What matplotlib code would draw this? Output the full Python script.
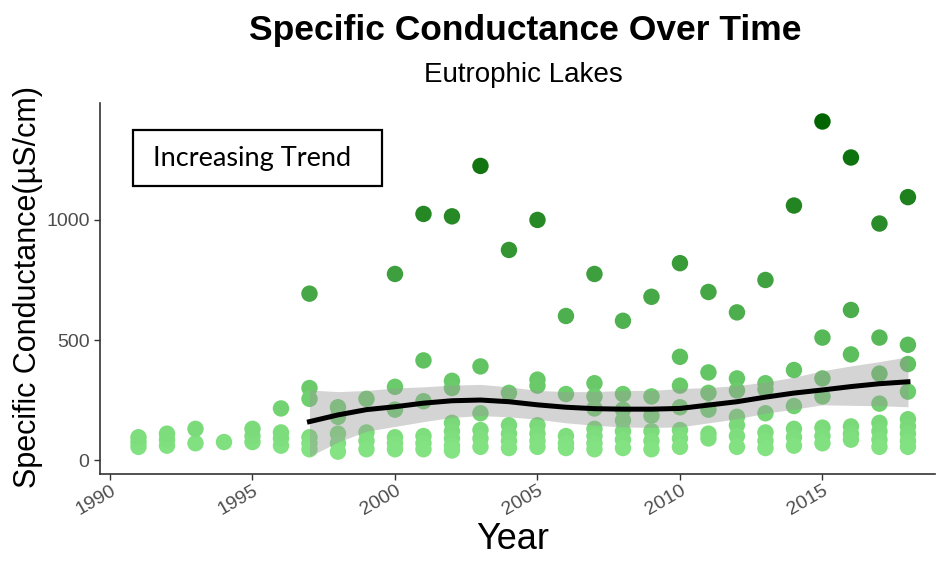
import matplotlib
matplotlib.use("Agg")
import matplotlib.pyplot as plt
from matplotlib.colors import LinearSegmentedColormap, Normalize
from matplotlib.patches import Rectangle
import numpy as np

plt.rcParams["font.family"] = ["Liberation Sans", "DejaVu Sans"]

# specific conductance (uS/cm) of each eutrophic lake, per year
years = [1991, 1992, 1993, 1994, 1995, 1996, 1997, 1998, 1999, 2000,
         2001, 2002, 2003, 2004, 2005, 2006, 2007, 2008, 2009, 2010,
         2011, 2012, 2013, 2014, 2015, 2016, 2017, 2018]
cond = [
    [55, 75, 95],
    [60, 85, 110],
    [70, 130],
    [75],
    [75, 100, 130],
    [215, 60, 90, 115],
    [693, 300, 255, 95, 70, 45],
    [220, 180, 110, 70, 35],
    [255, 115, 80, 45],
    [775, 305, 210, 95, 70, 45],
    [1025, 415, 245, 100, 70, 45],
    [1015, 330, 300, 155, 120, 90, 60, 40],
    [1225, 390, 195, 125, 90, 55],
    [875, 280, 145, 110, 80, 50],
    [1000, 335, 310, 145, 110, 80, 55],
    [600, 275, 100, 70, 50],
    [775, 320, 265, 215, 130, 100, 70, 45],
    [580, 275, 210, 165, 120, 85, 50],
    [680, 265, 185, 120, 80, 45],
    [820, 430, 310, 220, 125, 90, 55],
    [700, 365, 280, 210, 110, 90],
    [615, 340, 290, 180, 145, 100, 55],
    [750, 320, 295, 195, 115, 80, 50],
    [1060, 375, 225, 130, 95, 60],
    [1410, 510, 340, 265, 135, 100, 70],
    [1260, 625, 440, 140, 110, 85],
    [985, 510, 360, 235, 155, 120, 85, 55],
    [1095, 480, 400, 285, 170, 140, 110, 80, 55],
]

# smoothed trend with its confidence band
smooth_years = list(range(1997, 2019))
smooth_fit = [160, 188, 210, 222, 237, 247, 250, 243, 230, 220, 214,
              212, 212, 215, 229, 243, 262, 279, 292, 306, 318, 326]
smooth_hi = [292, 285, 290, 300, 305, 312, 315, 305, 290, 285, 285,
             290, 290, 298, 302, 310, 325, 345, 372, 392, 410, 430]
smooth_lo = [15, 75, 120, 140, 160, 178, 185, 180, 170, 155, 145,
             138, 136, 138, 155, 172, 195, 212, 230, 228, 226, 222]

x = np.concatenate([[yr] * len(v) for yr, v in zip(years, cond)])
y = np.concatenate([v for v in cond])

cmap = LinearSegmentedColormap.from_list("greens", ["#84e484", "#006400"])
norm = Normalize(vmin=y.min(), vmax=y.max())

fig = plt.figure(figsize=(9.4, 5.61), dpi=100)
ax = fig.add_axes([0.1064, 0.1551, 0.8883, 0.6613])

ax.scatter(x, y, s=140, c=cmap(norm(y)), edgecolors="none", zorder=2)
ax.fill_between(smooth_years, smooth_lo, smooth_hi, color="#999999",
                alpha=0.42, linewidth=0, zorder=3)
ax.plot(smooth_years, smooth_fit, color="black", linewidth=3.6, zorder=4)

ax.set_xlim(1989.65, 2018.95)
ax.set_ylim(-58, 1487)
ax.set_xticks([1990, 1995, 2000, 2005, 2010, 2015])
ax.set_yticks([0, 500, 1000])
for s in ["top", "right"]:
    ax.spines[s].set_visible(False)
for s in ["left", "bottom"]:
    ax.spines[s].set_color("#333333")
    ax.spines[s].set_linewidth(1.2)
ax.tick_params(length=4, width=1, color="#333333", labelcolor="#4d4d4d",
               labelsize=14)
ax.tick_params(axis="x", pad=2)
for lab in ax.get_xticklabels():
    lab.set_rotation(30)
    lab.set_ha("right")
    lab.set_rotation_mode("anchor")

fig.text(0.559, 0.946, "Specific Conductance Over Time", ha="center",
         va="center", fontsize=25.5, fontweight="bold")
fig.text(0.557, 0.866, "Eutrophic Lakes", ha="center", va="center",
         fontsize=20)
fig.text(0.03, 0.488, "Specific Conductance(\u00b5S/cm)", rotation=90,
         ha="center", va="center", fontsize=22)
fig.text(0.545, 0.008, "Year", ha="center", va="bottom", fontsize=26)

# trend note box
fig.patches.append(Rectangle((0.1415, 0.6684), 0.2649, 0.0998,
                             transform=fig.transFigure, fill=False,
                             edgecolor="black", linewidth=1.6))
fig.text(0.163, 0.718, "Increasing Trend", ha="left", va="center",
         fontsize=19.5, family="Lato")

fig.savefig("out.png", dpi=100)
